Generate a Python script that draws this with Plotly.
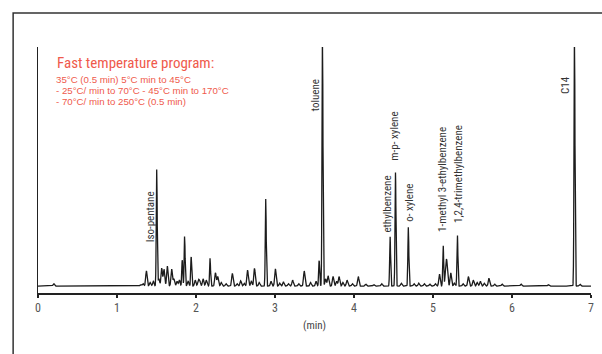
import numpy as np
import plotly.graph_objects as go

# ---- data ----
peak_times = [0.20, 1.30, 1.33, 1.372, 1.42, 1.46, 1.503, 1.53, 1.566, 1.595, 1.637, 1.692,
              1.72, 1.76, 1.79, 1.826, 1.856, 1.90, 1.939, 1.99, 2.03, 2.048, 2.09, 2.13,
              2.178, 2.246, 2.275, 2.32, 2.38, 2.46, 2.52, 2.565, 2.61, 2.653, 2.70, 2.741,
              2.80, 2.883, 2.95, 3.005, 3.06, 3.106, 3.17, 3.223, 3.30, 3.37, 3.45, 3.52,
              3.559, 3.601, 3.64, 3.672, 3.735, 3.78, 3.811, 3.86, 3.912, 3.98, 4.054, 4.15,
              4.25, 4.35, 4.457, 4.525, 4.60, 4.688, 4.76, 4.82, 4.89, 4.96, 5.03, 5.082,
              5.129, 5.162, 5.177, 5.225, 5.27, 5.309, 5.38, 5.448, 5.51, 5.56, 5.599, 5.65,
              5.708, 5.78, 5.875, 6.115, 6.46, 6.791, 6.86]
peak_heights = [0.010, 0.006, 0.010, 0.064, 0.015, 0.020, 0.489, 0.030, 0.075, 0.070, 0.084, 0.071,
                0.030, 0.020, 0.025, 0.109, 0.210, 0.020, 0.123, 0.025, 0.025, 0.020, 0.030, 0.025,
                0.117, 0.056, 0.040, 0.015, 0.010, 0.053, 0.010, 0.022, 0.012, 0.067, 0.020, 0.074,
                0.015, 0.365, 0.020, 0.072, 0.012, 0.018, 0.010, 0.025, 0.010, 0.063, 0.015, 0.020,
                0.107, 1.060, 0.030, 0.043, 0.040, 0.020, 0.040, 0.015, 0.025, 0.010, 0.040, 0.008,
                0.006, 0.010, 0.207, 0.475, 0.012, 0.247, 0.010, 0.012, 0.010, 0.008, 0.010, 0.050,
                0.171, 0.080, 0.080, 0.055, 0.012, 0.214, 0.010, 0.040, 0.025, 0.015, 0.020, 0.012,
                0.033, 0.008, 0.008, 0.008, 0.006, 1.060, 0.008]
peak_sigma = [0.006 if h > 0.1 else 0.009 for h in peak_heights]

label_texts = ["Iso-pentane", "toluene", "ethylbenzene", "m-p- xylene", "o- xylene",
               "1-methyl 3-ethylbenzene", "1,2,4-trimethylbenzene", "C14"]
label_x = [1.428, 3.513, 4.419, 4.512, 4.701, 5.120, 5.330, 6.685]
label_y = [0.180, 0.725, 0.218, 0.520, 0.266, 0.222, 0.260, 0.800]

x_ticks = [0, 1, 2, 3, 4, 5, 6, 7]

title_line = "Fast temperature program:"
program_lines = ["35°C (0.5 min) 5°C min to 45°C",
                 "- 25°C/ min to 70°C - 45°C min to 170°C",
                 "- 70°C/ min to 250°C (0.5 min)"]

# ---- build trace ----
t = np.arange(0, 7.0001, 0.0025)
sig = np.zeros_like(t)
for rt, h, s in zip(peak_times, peak_heights, peak_sigma):
    sig += h * np.exp(-0.5 * ((t - rt) / s) ** 2)

W, H = 602, 354
ML, MR, MT, MB = 38, 8, 47, 61
PW, PH = W - ML - MR, H - MT - MB

def px(xp):
    return (xp - ML) / PW

def py(yp):
    return (H - MB - yp) / PH

FONT = "Liberation Sans Narrow, Arial Narrow, Roboto Condensed, Liberation Sans, sans-serif"
FONT_W = "Liberation Sans, Arial, sans-serif"
RED = "#ef5a4c"

fig = go.Figure()
fig.add_trace(go.Scatter(x=t, y=sig, mode="lines",
                         line=dict(color="#1c1c1c", width=1.3), hoverinfo="skip"))

annotations = []
for txt, lx, ly in zip(label_texts, label_x, label_y):
    annotations.append(dict(x=lx, y=ly, xref="x", yref="y", text=txt, showarrow=False,
                            textangle=-90, xanchor="center", yanchor="bottom", borderpad=0,
                            font=dict(family=FONT, size=11, color="#333333")))

annotations.append(dict(x=px(56), y=py(62.5), xref="paper", yref="paper", text=title_line,
                        showarrow=False, xanchor="left", yanchor="middle", borderpad=0,
                        font=dict(family=FONT, size=15, color=RED)))
for i, line in enumerate(program_lines):
    annotations.append(dict(x=px(56), y=py(79.5 + 11.1 * i), xref="paper", yref="paper",
                            text=line, showarrow=False, xanchor="left", yanchor="middle",
                            borderpad=0, borderwidth=0,
                            font=dict(family=FONT_W, size=9.7, color=RED)))

fig.update_layout(
    width=W, height=H,
    margin=dict(l=ML, r=MR, t=MT, b=MB, pad=0),
    paper_bgcolor="white", plot_bgcolor="white",
    showlegend=False,
    font=dict(family=FONT, color="#555555"),
    xaxis=dict(range=[0, 7], tickvals=x_ticks, ticktext=[str(v) for v in x_ticks],
               showline=True, linecolor="#222222", linewidth=2,
               ticks="outside", ticklen=3, tickwidth=1.5, tickcolor="#222222",
               showgrid=False, zeroline=False,
               tickfont=dict(family=FONT, size=12, color="#555555"),
               title=dict(text="(min)", font=dict(family=FONT, size=11, color="#444444"),
                          standoff=7)),
    yaxis=dict(range=[-0.029, 1.0], showline=True, linecolor="#222222", linewidth=1,
               showticklabels=False, ticks="", showgrid=False, zeroline=False),
    annotations=annotations,
    shapes=[dict(type="rect", xref="paper", yref="paper",
                 x0=px(13), x1=px(W + 20), y0=py(H + 20), y1=py(13),
                 line=dict(color="#333333", width=1.5), fillcolor="rgba(0,0,0,0)",
                 layer="below")],
)

fig.write_html("out.html")
